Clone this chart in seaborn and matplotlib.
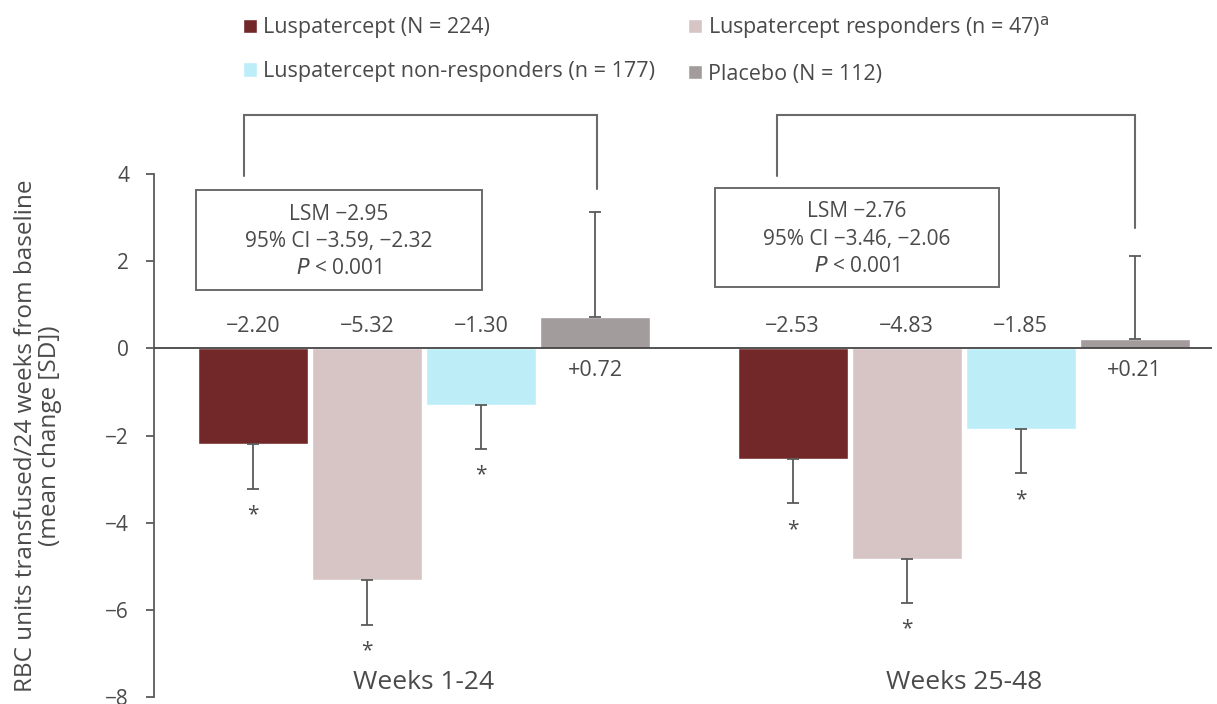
import numpy as np
import pandas as pd
import matplotlib
matplotlib.use("Agg")
import matplotlib.pyplot as plt
from matplotlib.patches import Rectangle
import seaborn as sns

# ---- data -------------------------------------------------------------
periods = ["Weeks 1-24", "Weeks 25-48"]
groups = ["Luspatercept", "Luspatercept responders",
          "Luspatercept non-responders", "Placebo"]
legend_labels = ["Luspatercept (N = 224)",
                 "Luspatercept responders (n = 47)$^{\\mathrm{a}}$",
                 "Luspatercept non-responders (n = 177)",
                 "Placebo (N = 112)"]
change_w1_24 = [-2.20, -5.32, -1.30, 0.72]
change_w25_48 = [-2.53, -4.83, -1.85, 0.21]
sd_w1_24 = [1.02, 1.02, 1.00, 2.41]
sd_w25_48 = [1.03, 1.01, 1.02, 1.90]
significant = [True, True, True, False]
lsm_text = [["LSM \u22122.95", "95% CI \u22123.59, \u22122.32", "$P$ < 0.001"],
            ["LSM \u22122.76", "95% CI \u22123.46, \u22122.06", "$P$ < 0.001"]]
y_ticks = [4, 2, 0, -2, -4, -6, -8]

colors = ["#722828", "#D7C5C5", "#BDEEF8", "#A29C9C"]
ink = "#4a4a4a"
line_col = "#5a5a5a"

# ---- style ------------------------------------------------------------
sns.set_theme(style="white")
plt.rcParams["font.family"] = ["Open Sans", "DejaVu Sans"]
plt.rcParams["mathtext.fontset"] = "dejavusans"
plt.rcParams["axes.unicode_minus"] = True

df = pd.DataFrame({
    "period": np.repeat(periods, len(groups)),
    "group": groups * len(periods),
    "change": change_w1_24 + change_w25_48,
})
values = [change_w1_24, change_w25_48]
sds = [sd_w1_24, sd_w25_48]

fig = plt.figure(figsize=(12.17, 7.04), dpi=100)
ax = fig.add_axes([154 / 1217, 7 / 704, 1058 / 1217, 523 / 704])

sns.barplot(data=df, x="period", y="change", hue="group", hue_order=groups,
            palette=colors, saturation=1, width=0.845, gap=0.035,
            errorbar=None, legend=False, ax=ax)
bar_containers = list(ax.containers)

ax.set_xlim(-0.5, 1.46)
ax.set_ylim(-8, 4)
ax.set_yticks(y_ticks)
ax.set_yticklabels([str(t).replace("-", "\u2212") for t in y_ticks])
ax.set_xticks([])
ax.set_xlabel("")
ax.set_ylabel("RBC units transfused/24 weeks from baseline\n(mean change [SD])",
              fontsize=17.5, color=ink, linespacing=1.0)
ax.yaxis.set_label_coords(-0.087, 0.5)

for s in ["top", "right", "bottom"]:
    ax.spines[s].set_visible(False)
ax.spines["left"].set_color(line_col)
ax.spines["left"].set_linewidth(1.3)
ax.tick_params(axis="y", left=True, length=6, width=1.3, color=line_col,
               pad=12, labelsize=15, labelcolor=ink)
ax.axhline(0, color="#444444", lw=1.3, zorder=3)

# error bars, value labels and significance markers
for i, cont in enumerate(bar_containers):
    for j, bar in enumerate(cont.patches):
        xc = bar.get_x() + bar.get_width() / 2
        v = values[j][i]
        sd = sds[j][i]
        lower, upper = (sd, 0) if v < 0 else (0, sd)
        ax.errorbar(xc, v, yerr=[[lower], [upper]], fmt="none",
                    ecolor=line_col, elinewidth=1.3, capsize=4.3,
                    capthick=1.3, zorder=2)
        label = f"{v:+.2f}".replace("-", "\u2212")
        if v < 0:
            ax.text(xc, 0.37, label, ha="center", va="baseline",
                    fontsize=15.5, color=ink)
        else:
            ax.text(xc, -0.64, label, ha="center", va="baseline",
                    fontsize=15.5, color=ink)
        if significant[i]:
            ax.text(xc, v - sd - 0.73, "*", ha="center", va="baseline",
                    fontsize=15, color=ink)

# LSM summary boxes
boxes = [(-0.4226, 1.33, 0.5301, 2.30), (0.539, 1.40, 0.527, 2.28)]
for (bx, by, bw, bh), lines in zip(boxes, lsm_text):
    ax.add_patch(Rectangle((bx, by), bw, bh, facecolor="white",
                           edgecolor="#6a6a6a", lw=1.4, zorder=4))
    cx = bx + bw / 2
    cy = by + bh / 2
    for dy, txt in zip([0.47, -0.16, -0.78], lines):
        ax.text(cx, cy + dy, txt, ha="center", va="baseline",
                fontsize=15, color=ink, zorder=5)

# comparison brackets above the panel
brackets = [(-0.334, 0.32, 3.95, 3.66), (0.654, 1.318, 3.95, 2.76)]
top_y = 5.36
for xl, xr, yl, yr in brackets:
    ax.plot([xl, xl, xr, xr], [yl, top_y, top_y, yr], color="#6a6a6a",
            lw=1.5, clip_on=False, solid_joinstyle="miter")

# period labels
for k, p in enumerate(periods):
    ax.text(k, -7.82, p, ha="center", va="baseline", fontsize=19, color=ink)

# legend
handles = [bar_containers[0], bar_containers[2], bar_containers[1], bar_containers[3]]
labels = [legend_labels[0], legend_labels[2], legend_labels[1], legend_labels[3]]
fig.legend(handles, labels, loc="upper left", bbox_to_anchor=(243 / 1217, 1 - 14 / 704),
           ncol=2, frameon=False, fontsize=15.5, labelcolor=ink,
           handlelength=0.65, handleheight=0.65, handletextpad=0.3,
           labelspacing=1.05, columnspacing=1.5, borderpad=0, borderaxespad=0)

fig.savefig("out.png", dpi=100)
